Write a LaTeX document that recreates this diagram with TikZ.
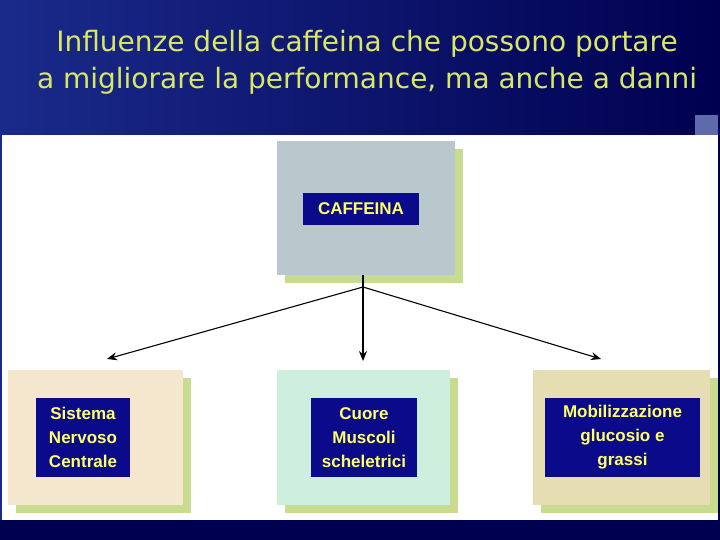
\documentclass[tikz,border=0pt]{standalone}
\usepackage{fontspec}
\setmainfont{Liberation Sans}
\newfontfamily\titlefont{DejaVu Sans}
\usetikzlibrary{arrows.meta}
\definecolor{navy}{HTML}{000050}
\definecolor{navyl}{HTML}{1A2A8A}
\definecolor{titlecol}{HTML}{D8E860}
\definecolor{shadowcol}{HTML}{C8DC90}
\definecolor{lblbg}{HTML}{0A0A8A}
\definecolor{lbltxt}{HTML}{FFFF66}
\tikzset{
  lbl/.style={fill=lblbg,text=lbltxt,font=\bfseries\fontsize{17}{24}\selectfont,align=center,inner sep=2pt},
  conn/.style={draw=black,line width=1.1pt,-{Stealth[length=10pt,width=8pt]}},
  ttl/.style={text=titlecol,font=\titlefont\fontsize{28}{32}\selectfont}
}
\begin{document}
\begin{tikzpicture}[x=1pt,y=-1pt]
\useasboundingbox (0,0) rectangle (720,540);
\shade[left color=navyl,right color=navy] (0,0) rectangle (720,540);
\fill[navy] (0,520) rectangle (720,540);
\fill[white] (2,135) rectangle (718,520);
\fill[navyl!70] (695,115) rectangle (718,135);
\node[ttl] (t1) at (367,44) {Influenze della caffeina che possono portare};
\node[ttl] (t2) at (367,81) {a migliorare la performance, ma anche a danni};
\fill[shadowcol] (285,149) rectangle (463,283);
\fill[shadowcol] (16,378) rectangle (191,513);
\fill[shadowcol] (285,378) rectangle (458,513);
\fill[shadowcol] (541,378) rectangle (718,513);
\fill[fill={rgb,255:red,184;green,200;blue,204}] (277,141) rectangle (455,275);
\fill[fill={rgb,255:red,245;green,230;blue,206}] (8,370) rectangle (183,505);
\fill[fill={rgb,255:red,206;green,238;blue,222}] (277,370) rectangle (450,505);
\fill[fill={rgb,255:red,230;green,222;blue,178}] (533,370) rectangle (710,505);
\node[lbl,minimum width=116pt,minimum height=32pt] (caf) at (361,209) {CAFFEINA};
\node[lbl,minimum width=94pt,minimum height=79pt] (snc) at (83,437.5) {Sistema\\Nervoso\\Centrale};
\node[lbl,minimum width=106pt,minimum height=79pt] (cuo) at (364,437.5) {Cuore\\Muscoli\\scheletrici};
\node[lbl,minimum width=155pt,minimum height=79pt] (mob) at (622.5,437.5) {Mobilizzazione\\glucosio e\\grassi};
\coordinate (top) at (363,275);
\coordinate (fork) at (363,287);
\coordinate (eL) at (107,359);
\coordinate (eM) at (363,361);
\coordinate (eR) at (601,359);
\draw[line width=1.1pt] (top) -- (fork);
\draw[conn] (fork) -- (eL);
\draw[conn] (fork) -- (eM);
\draw[conn] (fork) -- (eR);
\end{tikzpicture}
\end{document}
